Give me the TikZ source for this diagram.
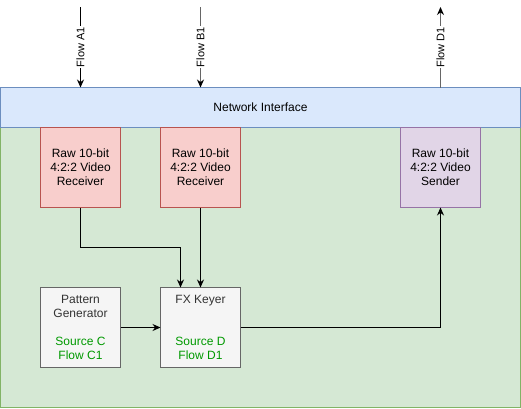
\documentclass[tikz,border=0pt]{standalone}
\usepackage{fontspec}
\setmainfont{Liberation Sans}
\usetikzlibrary{arrows.meta,shapes}
\definecolor{niFill}{HTML}{DAE8FC}
\definecolor{niLine}{HTML}{6C8EBF}
\definecolor{grFill}{HTML}{D5E8D4}
\definecolor{grLine}{HTML}{82B366}
\definecolor{rxFill}{HTML}{F8CECC}
\definecolor{rxLine}{HTML}{B85450}
\definecolor{txFill}{HTML}{E1D5E7}
\definecolor{txLine}{HTML}{9673A6}
\definecolor{fxFill}{HTML}{F5F5F5}
\definecolor{fxLine}{HTML}{666666}
\definecolor{fxText}{HTML}{333333}
\definecolor{srcText}{HTML}{009900}
\tikzstyle{blk}=[rectangle,draw,line width=1pt,inner sep=0,outer sep=0,
                align=center,minimum width=80pt,minimum height=80pt,
                font=\fontsize{12pt}{14pt}\selectfont]
\tikzstyle{rx}=[blk,fill=rxFill,draw=rxLine]
\tikzstyle{tx}=[blk,fill=txFill,draw=txLine]
\tikzstyle{fx}=[blk,fill=fxFill,draw=fxLine,text=fxText]
\tikzstyle{link}=[line width=1pt,-{Stealth[length=8pt,width=7pt]}]
\tikzstyle{flow}=[link,draw=fxLine,-{Stealth[length=8pt,width=7pt,black]}]
\tikzstyle{flabel}=[fill=white,rotate=90,inner sep=1pt,
                    font=\fontsize{11pt}{13pt}\selectfont]
\newcommand{\src}[1]{\textcolor{srcText}{#1}}
\begin{document}
\begin{tikzpicture}[x=1pt,y=-1pt]
\useasboundingbox (0,0) rectangle (521,408);
% container and network interface
\node[blk,fill=grFill,draw=grLine,minimum width=520pt,minimum height=280pt]
  (box) at (260.5,267.5) {};
\node[blk,fill=niFill,draw=niLine,minimum width=520pt,minimum height=40pt]
  (ni) at (260.5,107.5) {Network Interface};
% blocks
\node[rx] (rxa) at (80.5,167.5) {Raw 10-bit\\4:2:2 Video\\Receiver};
\node[rx] (rxb) at (200.5,167.5) {Raw 10-bit\\4:2:2 Video\\Receiver};
\node[tx] (tx) at (440.5,167.5) {Raw 10-bit\\4:2:2 Video\\Sender};
\node[fx] (pat) at (80.5,327.5) {Pattern\\Generator\\[14pt]\src{Source C}\\\src{Flow C1}};
\node[fx] (fx) at (200.5,327.5) {FX Keyer\\[28pt]\src{Source D}\\\src{Flow D1}};
% flows
\coordinate (a1) at (80.5,7);
\coordinate (b1) at (200.5,7);
\coordinate (d1) at (440.5,7);
\draw[link] (a1) -- node[flabel] {Flow A1} (a1 |- ni.north);
\draw[flow] (b1) -- node[flabel] {Flow B1} (b1 |- ni.north);
\draw[flow] (d1 |- ni.north) -- node[flabel] {Flow D1} (d1);
% internal links
\draw[link] (rxa.south) -- ++(0,40) -| ([xshift=-20pt]fx.north);
\draw[link] (rxb.south) -- (fx.north);
\draw[link] (pat.east) -- (fx.west);
\draw[link] (fx.east) -| (tx.south);
\end{tikzpicture}
\end{document}
